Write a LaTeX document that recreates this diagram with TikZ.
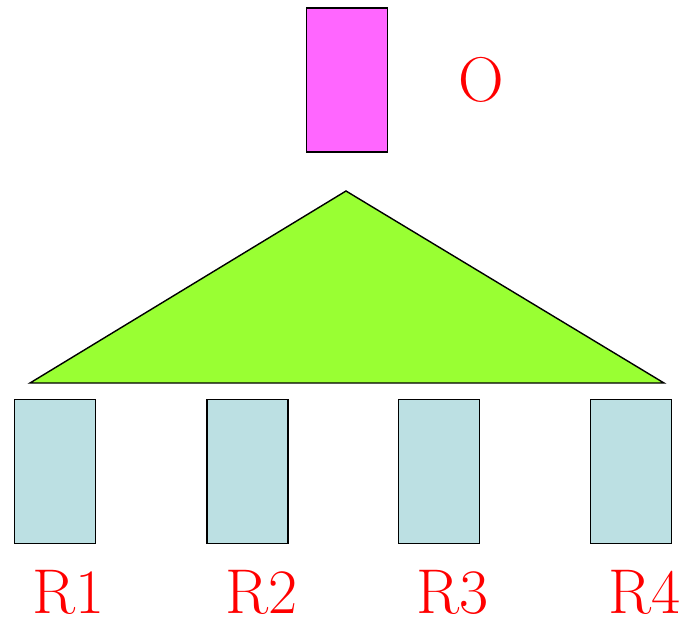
\documentclass[tikz,border=0pt]{standalone}
\usetikzlibrary{positioning}
\definecolor{boxPink}{RGB}{255,102,255}
\definecolor{treeGreen}{RGB}{153,255,51}
\definecolor{leafBlue}{RGB}{188,224,227}
\definecolor{labelRed}{RGB}{255,0,0}

\begin{document}
\begin{tikzpicture}[
		box/.style={draw=black, line width=0.8pt, minimum width=1.62cm, minimum height=2.88cm, inner sep=0pt},
		tag/.style={text=labelRed, font=\fontsize{36}{40}\selectfont, anchor=base, inner sep=0pt}
	]
	\useasboundingbox (0,0) rectangle (13.7,12.4);
	% Root block
	\node[box, fill=boxPink] (root) at (6.94,10.8) {};
	\node[tag] (rootlbl) at (9.62,10.36) {O};
	% Tree
	\draw[fill=treeGreen, line width=0.8pt, line join=miter] (6.92,8.58) -- (13.28,4.74) -- (0.6,4.74) -- cycle;
	% Leaf blocks
	\foreach \i/\x in {1/1.1, 2/4.95, 3/8.78, 4/12.62} {
		\node[box, fill=leafBlue] (r\i) at (\x,2.97) {};
		\node[tag] (lbl\i) at (\x+0.28,0.14) {R\i};
	}
\end{tikzpicture}
\end{document}
